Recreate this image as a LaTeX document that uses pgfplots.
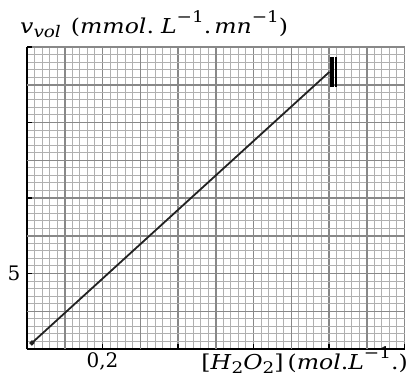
\documentclass[border=0pt]{standalone}
\usepackage{fontspec}
\setmainfont{DejaVu Serif}
\newfontfamily\wide{DejaVu Serif}[FakeStretch=1.15]
\usepackage{pgfplots}
\pgfplotsset{compat=1.18}
\definecolor{minorg}{HTML}{B0B0B0}
\definecolor{majorg}{HTML}{888888}
\definecolor{ink}{HTML}{222222}
\newcommand{\lbl}{\fontsize{20}{24}\selectfont}
\newcommand{\wlbl}{\wide\fontsize{20.5}{24}\selectfont}
\newcommand{\sub}[1]{\raisebox{-0.22em}{\fontsize{16}{18}\selectfont #1}}
\newcommand{\sups}[1]{\raisebox{0.5em}{\fontsize{16}{18}\selectfont #1}}
\begin{document}
\begin{tikzpicture}
\begin{axis}[
  at={(0,0)}, anchor=south west,
  width=377.5pt, height=302pt, scale only axis,
  xmin=0, xmax=1, ymin=0, ymax=20,
  axis lines=left,
  axis line style={-, black, line width=1.1pt},
  xtick={0,0.2,0.4,0.6,0.8,1}, xticklabels={,{0,2},,,,},
  ytick={0,5,10,15,20}, yticklabels={,5,,,},
  minor x tick num=9, minor y tick num=9,
  minor tick length=0pt,
  major tick length=5pt,
  tick align=inside,
  tick style={black, line width=1.1pt},
  grid=both,
  minor grid style={minorg, line width=1pt},
  major grid style={majorg, line width=1.5pt},
  extra x ticks={0.1,0.3,0.5,0.7,0.9},
  extra y ticks={2.5,7.5,12.5,17.5},
  extra x tick labels={}, extra y tick labels={},
  extra tick style={major tick length=0pt, grid=major},
  ticklabel style={font=\lbl},
  yticklabel style={xshift=-3pt},
  clip=false,
]
\addplot[ink, line width=1.8pt, mark=*, mark size=1.6pt, mark indices={1}] coordinates {(0.013,0.4) (0.801,18.35)};
\addplot[black, line width=3.8pt, forget plot] coordinates {(0.808,17.35) (0.808,19.34)};
\addplot[black, line width=1.1pt, forget plot] coordinates {(0.8185,17.35) (0.8185,19.34)};
\node[anchor=base west, font=\wlbl, inner sep=0pt] at ([xshift=-7pt, yshift=14pt]rel axis cs:0,1) {\textit{v}\sub{\textit{vol}}\hspace{10pt}(\textit{mmol}.\hspace{7pt}\textit{L}\sups{−1}.\hspace{3pt}\textit{mn}\sups{−1})};
\node[anchor=base east, font=\wlbl, inner sep=0pt] at ([xshift=3.5pt, yshift=-20pt]rel axis cs:1,0) {[\textit{H}\sub{2}\textit{O}\sub{2}]\hspace{4pt}(\textit{mol}.\textit{L}\sups{−1}.)};
\end{axis}
\pgfresetboundingbox
\path[use as bounding box] (-27pt,-32pt) rectangle (382pt,349pt);
\end{tikzpicture}
\end{document}
